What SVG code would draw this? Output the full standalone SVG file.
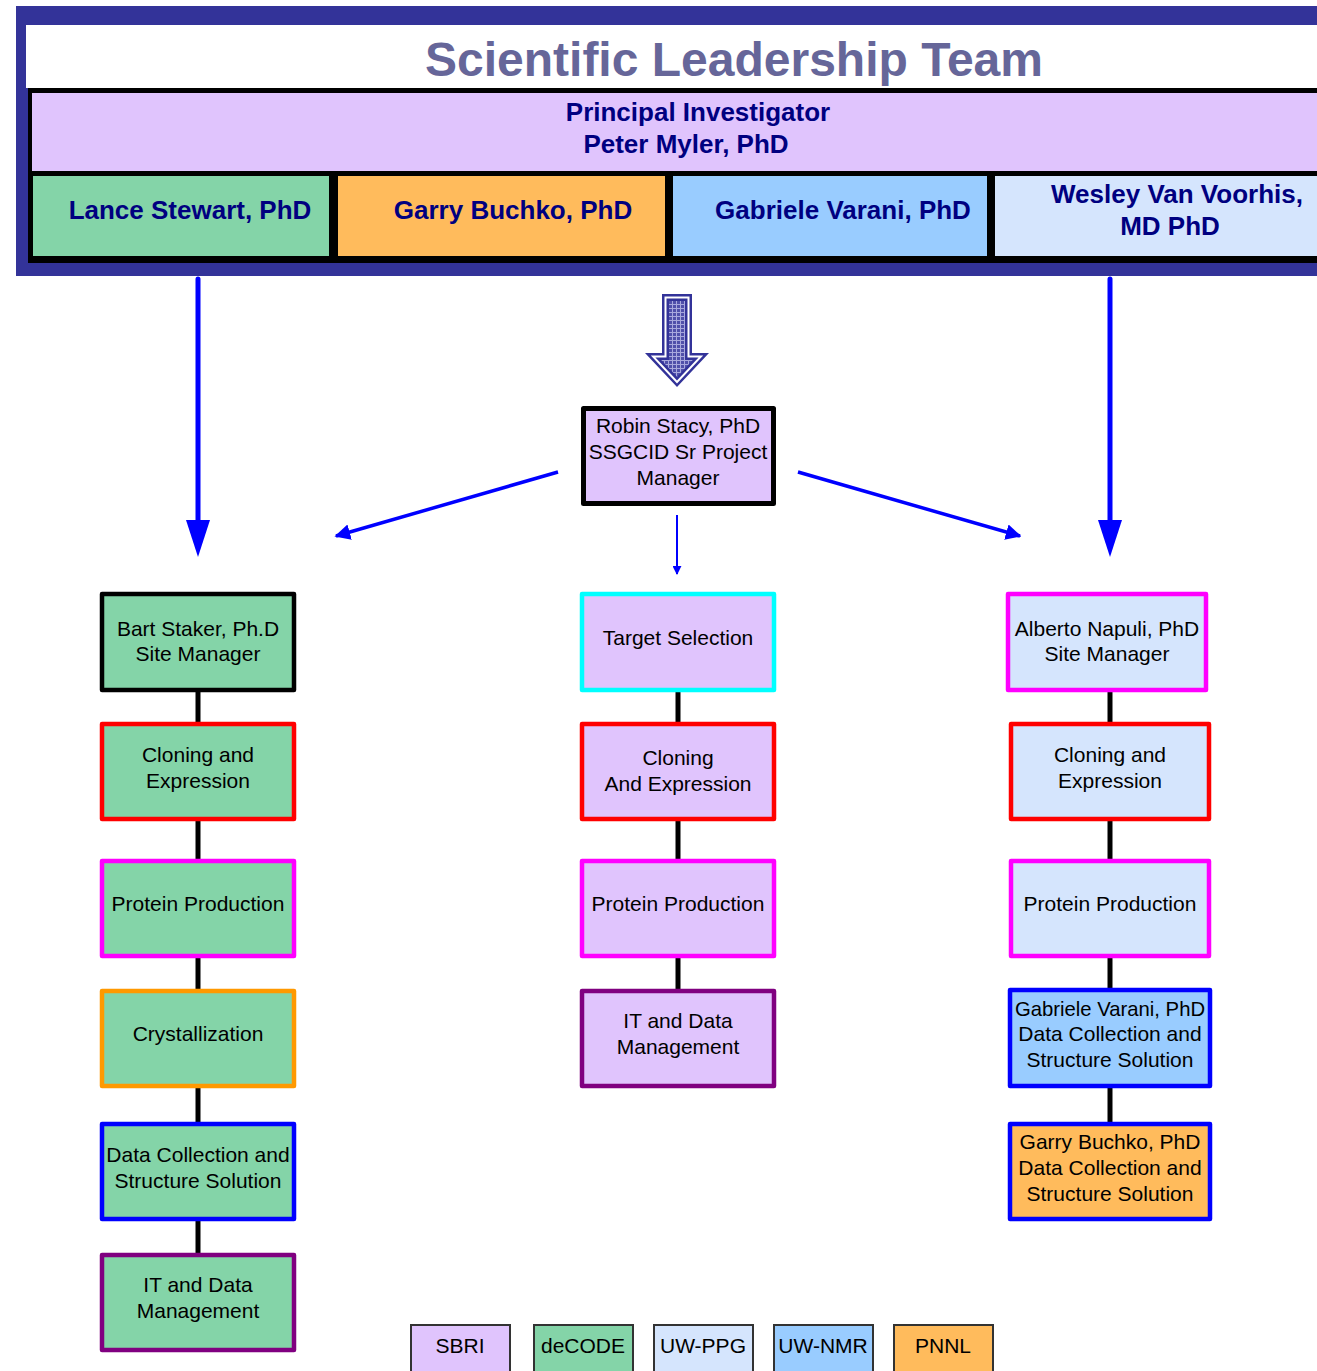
<svg xmlns="http://www.w3.org/2000/svg" width="1317" height="1371" viewBox="0 0 1317 1371">
<style>
text{font-family:"Liberation Sans",Arial,sans-serif;text-anchor:middle}
.hd{font-size:26px;font-weight:bold;fill:#000080}
.t{font-size:21px;fill:#000}
.box{stroke-width:4.5;stroke-linejoin:round}
.lg{stroke:#333;stroke-width:2}
.green{fill:#84D4A8}.lav{fill:#E0C4FD}.lblue{fill:#D5E5FD}.blue{fill:#99CCFF}.orange{fill:#FFBB5C}
.conn line{stroke:#000;stroke-width:5}
.ar{stroke:#0000FF;fill:none}
.head{fill:#0000FF}
</style>
<defs>
<marker id="ahs" viewBox="0 0 10 10" refX="9" refY="5" markerWidth="4.5" markerHeight="4.5" orient="auto" markerUnits="strokeWidth"><path d="M0,0 L10,5 L0,10 z" fill="#0000FF"/></marker>
<pattern id="grid" width="4" height="4" patternUnits="userSpaceOnUse"><rect width="4" height="4" fill="#5050AA"/><path d="M0,0.5 H4 M0.5,0 V4" stroke="#A8A8DD" stroke-width="1"/></pattern>
</defs>

<g id="header">
<rect x="16" y="6" width="1310" height="270" fill="#333399"/>
<rect x="26" y="25" width="1300" height="63" fill="#fff"/>
<rect x="28" y="88" width="1300" height="175" fill="#000"/>
<text x="734" y="76" style="font-size:48px;font-weight:bold;fill:#666699">Scientific Leadership Team</text>
</g>
<g id="pi">
<rect x="32" y="93" width="1300" height="78" class="lav"/>
<text class="hd" x="698" y="121">Principal Investigator</text>
<text class="hd" x="686" y="153">Peter Myler, PhD</text>
</g>
<g id="lance"><rect x="33" y="176" width="296" height="80" class="green"/><text class="hd" x="190" y="219">Lance Stewart, PhD</text></g>
<g id="garry"><rect x="338" y="176" width="327" height="80" class="orange"/><text class="hd" x="513" y="219">Garry Buchko, PhD</text></g>
<g id="gabriele"><rect x="673" y="176" width="314" height="80" class="blue"/><text class="hd" x="843" y="219">Gabriele Varani, PhD</text></g>
<g id="wesley"><rect x="995" y="176" width="330" height="80" class="lblue"/><text class="hd" x="1177" y="203">Wesley Van Voorhis,</text><text class="hd" x="1170" y="235">MD PhD</text></g>

<g id="bigarrow">
<polygon points="662,294 692,294 692,353 709,353 677,387 645,353 662,353" fill="#333399"/>
<polygon points="664.5,296.5 689.5,296.5 689.5,355.5 703.2,355.5 677,383.4 650.8,355.5 664.5,355.5" fill="#fff"/>
<polygon points="666.5,298.5 687.5,298.5 687.5,357.5 698.6,357.5 677,380.4 655.4,357.5 666.5,357.5" fill="#333399"/>
<polygon points="669,301 685,301 685,360 692.8,360 677,376.8 661.2,360 669,360" fill="url(#grid)"/>
</g>

<g id="robin">
<rect x="583.5" y="408.5" width="190" height="95" class="lav" stroke="#000" stroke-width="5" stroke-linejoin="round"/>
<text class="t" x="678" y="433">Robin Stacy, PhD</text>
<text class="t" x="678" y="459">SSGCID Sr Project</text>
<text class="t" x="678" y="485">Manager</text>
</g>

<g id="connectors">
<line class="ar" x1="198" y1="279" x2="198" y2="525" stroke-width="5" stroke-linecap="round"/>
<polygon class="head" points="186,520 210,520 198,557"/>
<line class="ar" x1="1110" y1="279" x2="1110" y2="525" stroke-width="5" stroke-linecap="round"/>
<polygon class="head" points="1098,520 1122,520 1110,557"/>
<line class="ar" x1="558" y1="472" x2="336" y2="536" stroke-width="3.5" marker-end="url(#ahs)"/>
<line class="ar" x1="798" y1="472" x2="1020" y2="536" stroke-width="3.5" marker-end="url(#ahs)"/>
<line class="ar" x1="677" y1="515" x2="677" y2="574" stroke-width="2" marker-end="url(#ahs)"/>
<g class="conn">
<line x1="198" y1="690" x2="198" y2="724"/><line x1="198" y1="819" x2="198" y2="861"/><line x1="198" y1="956" x2="198" y2="991"/><line x1="198" y1="1086" x2="198" y2="1124"/><line x1="198" y1="1219" x2="198" y2="1255"/>
<line x1="678" y1="690" x2="678" y2="724"/><line x1="678" y1="819" x2="678" y2="861"/><line x1="678" y1="956" x2="678" y2="991"/>
<line x1="1110" y1="690" x2="1110" y2="724"/><line x1="1110" y1="819" x2="1110" y2="861"/><line x1="1110" y1="956" x2="1110" y2="990"/><line x1="1110" y1="1086" x2="1110" y2="1124"/>
</g>
</g>

<g id="bart"><rect x="102" y="594" width="192" height="96" class="box green" stroke="#000"/><text class="t" x="198" y="636">Bart Staker, Ph.D</text><text class="t" x="198" y="661">Site Manager</text></g>
<g id="l-clone"><rect x="102" y="724" width="192" height="95" class="box green" stroke="#FF0000"/><text class="t" x="198" y="762">Cloning and</text><text class="t" x="198" y="788">Expression</text></g>
<g id="l-prot"><rect x="102" y="861" width="192" height="95" class="box green" stroke="#FF00FF"/><text class="t" x="198" y="911">Protein Production</text></g>
<g id="l-cryst"><rect x="102" y="991" width="192" height="95" class="box green" stroke="#FF9900"/><text class="t" x="198" y="1041">Crystallization</text></g>
<g id="l-data"><rect x="102" y="1124" width="192" height="95" class="box green" stroke="#0000FF"/><text class="t" x="198" y="1162">Data Collection and</text><text class="t" x="198" y="1188">Structure Solution</text></g>
<g id="l-it"><rect x="102" y="1255" width="192" height="95" class="box green" stroke="#800080"/><text class="t" x="198" y="1292">IT and Data</text><text class="t" x="198" y="1318">Management</text></g>

<g id="c-target"><rect x="582" y="594" width="192" height="96" class="box lav" stroke="#00FFFF"/><text class="t" x="678" y="645">Target Selection</text></g>
<g id="c-clone"><rect x="582" y="724" width="192" height="95" class="box lav" stroke="#FF0000"/><text class="t" x="678" y="765">Cloning</text><text class="t" x="678" y="791">And Expression</text></g>
<g id="c-prot"><rect x="582" y="861" width="192" height="95" class="box lav" stroke="#FF00FF"/><text class="t" x="678" y="911">Protein Production</text></g>
<g id="c-it"><rect x="582" y="991" width="192" height="95" class="box lav" stroke="#800080"/><text class="t" x="678" y="1028">IT and Data</text><text class="t" x="678" y="1054">Management</text></g>

<g id="alberto"><rect x="1008" y="594" width="198" height="96" class="box lblue" stroke="#FF00FF"/><text class="t" x="1107" y="636">Alberto Napuli, PhD</text><text class="t" x="1107" y="661">Site Manager</text></g>
<g id="r-clone"><rect x="1011" y="724" width="198" height="95" class="box lblue" stroke="#FF0000"/><text class="t" x="1110" y="762">Cloning and</text><text class="t" x="1110" y="788">Expression</text></g>
<g id="r-prot"><rect x="1011" y="861" width="198" height="95" class="box lblue" stroke="#FF00FF"/><text class="t" x="1110" y="911">Protein Production</text></g>
<g id="r-varani"><rect x="1010" y="990" width="200" height="96" class="box blue" stroke="#0000FF"/><text class="t" x="1110" y="1016" style="font-size:20.3px">Gabriele Varani, PhD</text><text class="t" x="1110" y="1041">Data Collection and</text><text class="t" x="1110" y="1067">Structure Solution</text></g>
<g id="r-buchko"><rect x="1010" y="1124" width="200" height="95" class="box orange" stroke="#0000FF"/><text class="t" x="1110" y="1149">Garry Buchko, PhD</text><text class="t" x="1110" y="1175">Data Collection and</text><text class="t" x="1110" y="1201">Structure Solution</text></g>

<g id="legend">
<g id="lg-sbri"><rect x="411" y="1325" width="99" height="60" class="lg lav"/><text class="t" x="460" y="1353">SBRI</text></g>
<g id="lg-decode"><rect x="534" y="1325" width="99" height="60" class="lg green"/><text class="t" x="583" y="1353">deCODE</text></g>
<g id="lg-uwppg"><rect x="654" y="1325" width="99" height="60" class="lg lblue"/><text class="t" x="703" y="1353">UW-PPG</text></g>
<g id="lg-uwnmr"><rect x="774" y="1325" width="99" height="60" class="lg blue"/><text class="t" x="823" y="1353">UW-NMR</text></g>
<g id="lg-pnnl"><rect x="894" y="1325" width="99" height="60" class="lg orange"/><text class="t" x="943" y="1353">PNNL</text></g>
</g>
</svg>
